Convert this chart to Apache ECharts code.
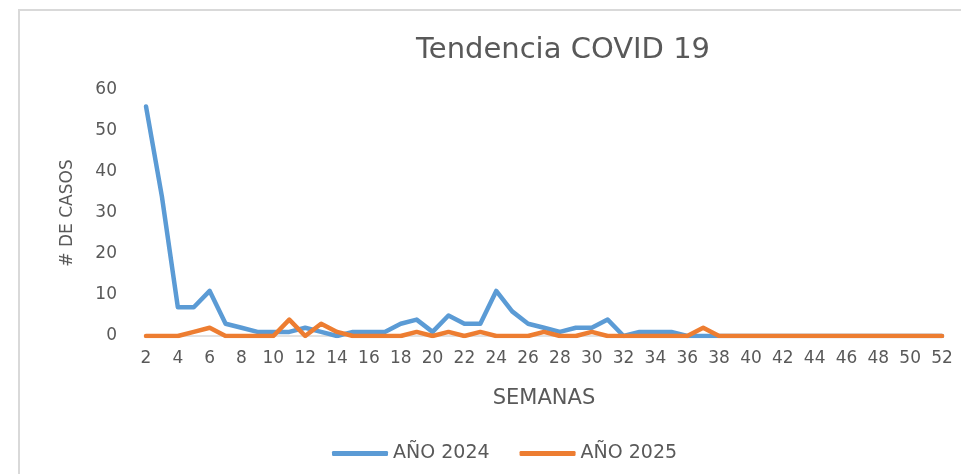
<!DOCTYPE html>
<html>
<head>
<meta charset="utf-8">
<script src="https://cdn.jsdelivr.net/npm/echarts@6/dist/echarts.min.js"></script>
<style>
  html, body { margin: 0; padding: 0; background: #fff; }
  #chart-container { width: 961px; height: 474px; }
</style>
</head>
<body>
<div id="chart-container"></div>
<script>
// semanas 2..52
const semanas = [];
for (let w = 2; w <= 52; w++) semanas.push(String(w));

const casos2024 = [56, 34, 7, 7, 11, 3, 2, 1, 1, 1, 2, 1, 0, 1, 1, 1, 3, 4, 1, 5,
    3, 3, 11, 6, 3, 2, 1, 2, 2, 4, 0, 1, 1, 1, 0,
    0, 0, 0, 0, 0, 0, 0, 0, 0, 0, 0, 0, 0, 0, 0, 0];
const casos2025 = [0, 0, 0, 1, 2, 0, 0, 0, 0, 4, 0, 3, 1, 0, 0, 0, 0, 1, 0, 1,
    0, 1, 0, 0, 0, 1, 0, 0, 1, 0, 0, 0, 0, 0, 0,
    2, 0, 0, 0, 0, 0, 0, 0, 0, 0, 0, 0, 0, 0, 0, 0];

const font = 'DejaVu Sans';
const gris = '#595959';

const myChart = echarts.init(document.getElementById('chart-container'));
const option = {
    animation: false,
    backgroundColor: '#fff',
    title: {
        text: 'Tendencia COVID 19',
        left: 411,
        top: 31,
        textStyle: { fontFamily: font, fontSize: 29, fontWeight: 'normal', color: gris }
    },
    graphic: [
        { type: 'line', shape: { x1: 18, y1: 10, x2: 961, y2: 10 }, style: { stroke: '#d9d9d9', lineWidth: 2 } },
        { type: 'line', shape: { x1: 19, y1: 10, x2: 19, y2: 474 }, style: { stroke: '#d9d9d9', lineWidth: 2 } }
    ],
    legend: {
        left: 327,
        top: 439,
        itemWidth: 56,
        itemHeight: 5,
        itemGap: 30,
        icon: 'roundRect',
        textStyle: { fontFamily: font, fontSize: 19, color: gris }
    },
    grid: { left: 146, right: 19, top: 90, bottom: 138 },
    xAxis: {
        type: 'category',
        boundaryGap: false,
        data: semanas,
        name: 'SEMANAS',
        nameLocation: 'middle',
        nameGap: 52,
        nameTextStyle: { fontFamily: font, fontSize: 21, color: gris },
        axisLine: { lineStyle: { color: '#d9d9d9', width: 1.5 } },
        axisTick: { show: false },
        axisLabel: { interval: 1, margin: 14, fontFamily: font, fontSize: 17, color: gris }
    },
    yAxis: {
        type: 'value',
        min: 0,
        max: 60,
        interval: 10,
        name: '# DE CASOS',
        nameLocation: 'middle',
        nameGap: 70,
        nameTextStyle: { fontFamily: font, fontSize: 17, color: gris },
        axisLine: { show: false },
        axisTick: { show: false },
        splitLine: { show: false },
        axisLabel: { margin: 29, fontFamily: font, fontSize: 17, color: gris }
    },
    series: [
        {
            name: 'AÑO 2024',
            type: 'line',
            symbol: 'none',
            data: casos2024,
            color: '#5b9bd5',
            lineStyle: { width: 4.5, color: '#5b9bd5', cap: 'round', join: 'round' }
        },
        {
            name: 'AÑO 2025',
            type: 'line',
            symbol: 'none',
            data: casos2025,
            color: '#ed7d31',
            lineStyle: { width: 4.5, color: '#ed7d31', cap: 'round', join: 'round' }
        }
    ]
};

option && myChart.setOption(option);
</script>
</body>
</html>
